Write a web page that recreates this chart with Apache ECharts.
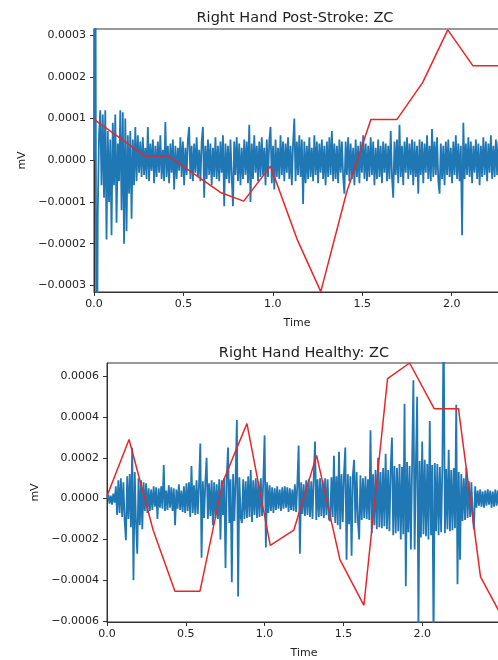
<!DOCTYPE html>
<html>
<head>
<meta charset="utf-8">
<script src="https://cdn.jsdelivr.net/npm/echarts@6/dist/echarts.min.js"></script>
<style>
  html, body { margin: 0; padding: 0; background: #fff; }
  #chart { width: 498px; height: 660px; }
</style>
</head>
<body>
<div id="chart"></div>
<script>
// raw EMG samples, in units of 1e-6 mV
const postStrokeStep = 0.007;
const postStrokeSignal = [
  0, 820, -820, -130, 60, 120, -60, 110, -90, 120,
  -190, 70, -100, 50, -180, 90, -60, 110, -150, 40,
  -50, 120, -120, 115, -200, 100, -170, 60, -80, 70,
  -140, 50, -60, 80, -50, 60, -30, 45, -40, 55,
  -35, 30, -45, 80, -50, 40, -25, 50, -55, 35,
  -40, 45, -30, 60, -45, 25, -50, 92, -40, 35,
  -55, 40, -30, 50, -70, 35, -45, 30, -25, 55,
  -40, 45, -60, 30, -35, 50, 80, -45, 35, -50,
  40, -30, 55, -40, 25, -50, 45, 80, -90, 35,
  -45, 50, -35, 40, -60, 30, -40, 55, -45, 35,
  -50, 45, -30, 60, -110, 40, -45, 35, -55, 50,
  -40, -110, 45, -35, 55, -50, 40, -60, 30, -45,
  50, -35, 45, -55, 85, -100, 40, -45, 60, -30,
  35, -50, 45, -40, 55, -35, 30, -60, 50, -40,
  45, 80, -55, 35, -70, 50, -40, 30, -45, 60,
  -35, 45, -50, 40, -30, 55, -45, 35, -60, 40,
  100, -50, 45, -35, 60, -40, 50, -105, 45, -55,
  35, -45, 55, -40, 30, -50, 60, -35, 45, -55,
  40, -30, 50, -45, 35, -60, 45, -40, 55, -35,
  70, -50, 40, -45, 35, -55, 50, -30, 45, -40,
  -80, 45, -35, 55, -50, 40, -45, 30, -60, 50,
  -40, 35, -55, 45, -30, 60, -45, 40, -50, 35,
  -40, 55, -35, 45, -60, 30, -45, 50, -40, 35,
  -55, 45, -30, 40, -50, 35, -45, 70, -40, -90,
  45, -35, 50, -55, 85, -40, 35, -60, 45, -30,
  55, -45, 40, -35, 50, -60, 45, -40, 35, -80,
  50, -35, 45, -55, 40, -30, 60, -45, 35, -50,
  75, -40, 45, -35, 55, -50, -80, 40, -45, 35,
  -60, 45, -35, 50, -40, 30, -55, 45, -35, 60,
  -45, 40, -50, 35, -180, 90, -45, 40, -35, 55,
  -40, 45, -55, 35, -30, 50, -45, 40, -60, 35,
  -40, 55, -35, 45, -50, 40, -30, 60, -45, 35,
  -40, 50, -35, 45, -55, 40, -30
];

const healthyStep = 0.008;
const healthySignal = [
  0, 20, -25, 15, -30, 25, -20, 60, -80, 90,
  -70, 100, -90, 80, -110, -204, 110, -100, 120, -140,
  250, -400, 130, -120, -270, 100, -130, 90, -150, 80,
  -60, 75, -70, 50, -60, 45, -55, 60, -40, 55,
  -100, 50, -45, 60, -50, 165, -60, 40, -55, 65,
  -45, 55, -60, 50, -130, 45, -50, 70, -55, 40,
  -65, 60, -70, 75, -60, 80, -90, 160, -70, 65,
  -80, 90, -75, 70, 270, -290, 85, -95, 80, 200,
  -100, 75, -85, 90, -130, 80, -95, 70, -100, 95,
  -200, 90, -80, 100, -340, 110, 250, -120, 95, -410,
  120, -110, 100, 385, -480, 105, -90, -120, 95, -100,
  85, -95, 110, -90, 140, -115, 90, -80, 100, -95,
  85, -90, 100, -85, 95, 310, -240, 80, -70, 65,
  -60, 55, -70, 50, -55, 60, -50, 45, -60, 55,
  -50, 60, -45, 55, -65, 50, -55, 45, -60, 70,
  -65, 75, 260, -270, 80, -75, 70, -85, 90, -80,
  95, -90, 85, -100, 110, 280, -105, 95, -90, 100,
  -85, 90, -95, 100, -80, 95, -100, -110, 105, -90,
  210, -120, 110, -130, 230, -150, 120, -115, 125, 250,
  -300, 120, -125, 110, -280, 115, 190, -120, 130, -110,
  -200, 115, -105, 100, -95, 110, -100, 95, -105, 335,
  -170, 120, -130, 140, -150, 200, -140, 130, -145, 150,
  -135, 220, -150, 140, -160, 150, 300, -180, 160, -170,
  150, -160, 170, -200, 155, -175, 465, -430, 180, -165,
  160, -250, 175, 580, -250, 170, 500, -650, 185, -190,
  280, -175, 190, -185, 170, -200, 380, -180, 165, -700,
  175, -160, 170, -180, 155, -165, 160, 900, -170, 145,
  -150, 240, -160, 140, -155, 150, -145, 460, -420, 130,
  -300, 120, -110, 100, -105, 150, -95, 85, -90, 80,
  -75, -150, 60, -45, 40, -35, 45, -40, 35, -45,
  40, -35, 45, -30, 40, -45, 35, -40, 45, -35,
  40, -45, 35, -40, 30
];

// ZC feature curve (red), time / value in 1e-6 mV
const postZcTime = [0, 0.286, 0.417, 0.711, 0.837, 0.987, 1.137, 1.268, 1.413, 1.548, 1.694, 1.838, 1.978, 2.118, 2.27];
const postZcValue = [98, 10, 10, -78, -98, -14, -191, -315, -76, 98, 98, 187, 313, 227, 227];
const healthyZcTime = [0, 0.14, 0.293, 0.431, 0.59, 0.735, 0.888, 1.036, 1.185, 1.33, 1.478, 1.63, 1.78, 1.92, 2.076, 2.23, 2.37, 2.5];
const healthyZcValue = [13, 290, -155, -454, -454, 81, 368, -229, -155, 212, -299, -523, 588, 665, 441, 441, -384, -570];

const timeTicks = [0, 0.5, 1, 1.5, 2];
const postTicks = [-0.0003, -0.0002, -0.0001, 0, 0.0001, 0.0002, 0.0003];
const healthyTicks = [-0.0006, -0.0004, -0.0002, 0, 0.0002, 0.0004, 0.0006];

const UNIT = 1e-6;
const font = "DejaVu Sans";

const toSamples = (arr, step) => arr.map((v, i) => [i * step, v * UNIT]);
const toPairs = (ts, vs) => ts.map((t, i) => [t, vs[i] * UNIT]);
const fmtY = (v) => v.toFixed(4).replace("-", "\u2212");

const xAxisFor = (gridIndex, max) => ({
  type: "value",
  gridIndex,
  min: 0,
  max,
  name: "Time",
  nameLocation: "middle",
  nameGap: 26,
  nameTextStyle: { fontFamily: font, fontSize: 11, color: "#222" },
  axisLine: { show: true, onZero: false, lineStyle: { color: "#333" } },
  axisTick: { show: true, length: 4, lineStyle: { color: "#333" }, customValues: timeTicks },
  axisLabel: {
    fontFamily: font, fontSize: 11, color: "#222", margin: 7,
    customValues: timeTicks,
    formatter: (v) => v.toFixed(1),
  },
  splitLine: { show: false },
});

const yAxisFor = (gridIndex, min, max, ticks, gap) => ({
  type: "value",
  gridIndex,
  min,
  max,
  name: "mV",
  nameLocation: "middle",
  nameGap: gap,
  nameTextStyle: { fontFamily: font, fontSize: 11, color: "#222" },
  axisLine: { show: true, onZero: false, lineStyle: { color: "#333" } },
  axisTick: { show: true, length: 4, lineStyle: { color: "#333" }, customValues: ticks },
  axisLabel: {
    fontFamily: font, fontSize: 11, color: "#222", margin: 8,
    customValues: ticks,
    formatter: fmtY,
  },
  splitLine: { show: false },
});

const lineSeries = (idx, data, color, width, z) => ({
  type: "line",
  xAxisIndex: idx,
  yAxisIndex: idx,
  data,
  symbol: "none",
  sampling: null,
  clip: true,
  z,
  lineStyle: { color, width },
});

const chart = echarts.init(document.getElementById("chart"), null, { renderer: "canvas" });
chart.setOption({
  animation: false,
  backgroundColor: "#fff",
  title: [
    {
      text: "Right Hand Post-Stroke: ZC",
      left: 290, top: 6, textAlign: "center",
      textStyle: { fontFamily: font, fontSize: 14.5, fontWeight: "normal", color: "#222" },
    },
    {
      text: "Right Hand Healthy: ZC",
      left: 299, top: 341, textAlign: "center",
      textStyle: { fontFamily: font, fontSize: 14.5, fontWeight: "normal", color: "#222" },
    },
  ],
  grid: [
    { left: 94, top: 29, right: -2, height: 263, show: true, borderColor: "#333", borderWidth: 1, containLabel: false, outerBoundsMode: "none" },
    { left: 107, top: 363, right: -3, height: 259, show: true, borderColor: "#333", borderWidth: 1, containLabel: false, outerBoundsMode: "none" },
  ],
  xAxis: [xAxisFor(0, 2.27), xAxisFor(1, 2.5)],
  yAxis: [
    yAxisFor(0, -0.000316, 0.000315, postTicks, 64),
    yAxisFor(1, -0.000605, 0.000665, healthyTicks, 58),
  ],
  series: [
    lineSeries(0, toSamples(postStrokeSignal, postStrokeStep), "#1f77b4", 1.8, 2),
    lineSeries(0, toPairs(postZcTime, postZcValue), "#e8262a", 1.5, 3),
    lineSeries(1, toSamples(healthySignal, healthyStep), "#1f77b4", 1.8, 2),
    lineSeries(1, toPairs(healthyZcTime, healthyZcValue), "#e8262a", 1.5, 3),
  ],
});
</script>
</body>
</html>
